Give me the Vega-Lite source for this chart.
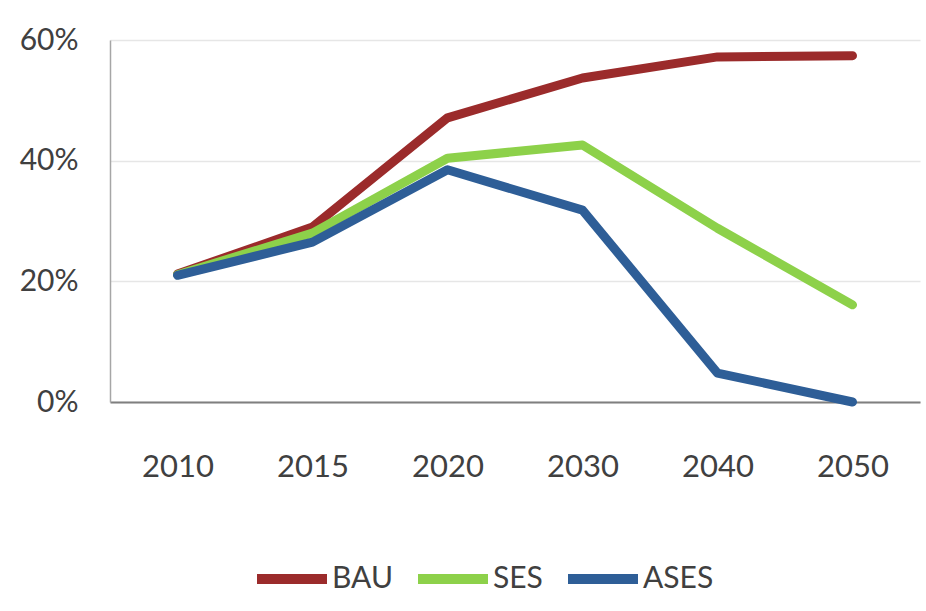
{
  "$schema": "https://vega.github.io/schema/vega-lite/v6.json",
  "autosize": "none",
  "width": 810,
  "height": 362,
  "padding": {"left": 110, "top": 40, "right": 6, "bottom": 209},
  "background": "white",
  "config": {
    "view": {"stroke": null},
    "font": "Lato"
  },
  "data": {
    "values": [
      {"year": "2010", "scenario": "BAU", "share": 0.212},
      {"year": "2015", "scenario": "BAU", "share": 0.29},
      {"year": "2020", "scenario": "BAU", "share": 0.471},
      {"year": "2030", "scenario": "BAU", "share": 0.537},
      {"year": "2040", "scenario": "BAU", "share": 0.572},
      {"year": "2050", "scenario": "BAU", "share": 0.574},
      {"year": "2010", "scenario": "SES", "share": 0.211},
      {"year": "2015", "scenario": "SES", "share": 0.28},
      {"year": "2020", "scenario": "SES", "share": 0.404},
      {"year": "2030", "scenario": "SES", "share": 0.426},
      {"year": "2040", "scenario": "SES", "share": 0.288},
      {"year": "2050", "scenario": "SES", "share": 0.161},
      {"year": "2010", "scenario": "ASES", "share": 0.21},
      {"year": "2015", "scenario": "ASES", "share": 0.265},
      {"year": "2020", "scenario": "ASES", "share": 0.385},
      {"year": "2030", "scenario": "ASES", "share": 0.318},
      {"year": "2040", "scenario": "ASES", "share": 0.048},
      {"year": "2050", "scenario": "ASES", "share": 0.0}
    ]
  },
  "mark": {"type": "line", "strokeWidth": 9, "strokeCap": "round", "strokeJoin": "round"},
  "encoding": {
    "x": {
      "field": "year",
      "type": "ordinal",
      "sort": null,
      "scale": {"type": "point", "padding": 0.5},
      "axis": {
        "title": null,
        "labelAngle": 0,
        "labelFontSize": 31,
        "labelColor": "#404040",
        "labelPadding": 50,
        "ticks": false,
        "domainColor": "#7f7f7f",
        "domainWidth": 2,
        "grid": false
      }
    },
    "y": {
      "field": "share",
      "type": "quantitative",
      "scale": {"domain": [0, 0.6], "nice": false},
      "axis": {
        "title": null,
        "values": [0, 0.2, 0.4, 0.6],
        "format": ".0%",
        "labelFontSize": 30,
        "labelColor": "#404040",
        "labelPadding": 32,
        "ticks": false,
        "domainColor": "#a6a6a6",
        "domainWidth": 1.5,
        "gridColor": "#e6e6e6",
        "gridWidth": 1.5
      }
    },
    "color": {
      "field": "scenario",
      "type": "nominal",
      "sort": ["BAU", "SES", "ASES"],
      "scale": {"domain": ["BAU", "SES", "ASES"], "range": ["#9b2b2b", "#8dd14a", "#2e5e97"]},
      "legend": {
        "title": null,
        "orient": "none",
        "direction": "horizontal",
        "legendX": 142,
        "legendY": 499,
        "symbolType": "stroke",
        "symbolStrokeWidth": 10,
        "symbolSize": 4900,
        "labelFontSize": 30,
        "labelColor": "#404040",
        "labelOffset": 0,
        "columnPadding": 5,
        "symbolOffset": 0
      }
    }
  }
}
